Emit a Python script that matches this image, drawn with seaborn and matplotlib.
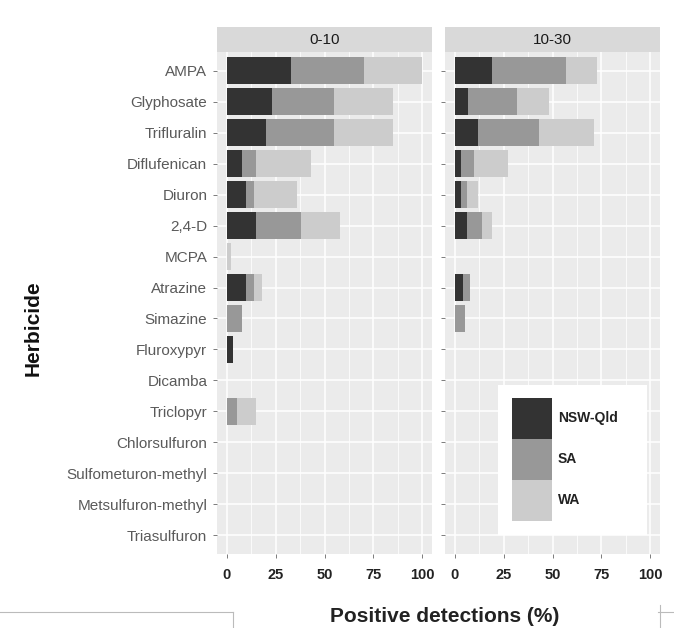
import numpy as np
import pandas as pd
import matplotlib
matplotlib.use("Agg")
import matplotlib.pyplot as plt
from matplotlib.patches import Patch, Rectangle
from matplotlib.lines import Line2D
import seaborn as sns

herbicides = ["AMPA", "Glyphosate", "Trifluralin", "Diflufenican", "Diuron", "2,4-D",
              "MCPA", "Atrazine", "Simazine", "Fluroxypyr", "Dicamba", "Triclopyr",
              "Chlorsulfuron", "Sulfometuron-methyl", "Metsulfuron-methyl", "Triasulfuron"]
depths = ["0-10", "10-30"]
regions = ["NSW-Qld", "SA", "WA"]

# 0-10 cm
nsw_0_10 = [33, 23, 20, 8, 10, 15, 0, 10, 0, 3, 0, 0, 0, 0, 0, 0]
sa_0_10  = [37, 32, 35, 7, 4, 23, 0, 4, 8, 0, 0, 5, 0, 0, 0, 0]
wa_0_10  = [30, 30, 30, 28, 22, 20, 2, 4, 0, 0, 0, 10, 0, 0, 0, 0]
# 10-30 cm
nsw_10_30 = [19, 7, 12, 3, 3, 6, 0, 4, 0, 0, 0, 0, 0, 0, 0, 0]
sa_10_30  = [38, 25, 31, 7, 3, 8, 0, 4, 5, 0, 0, 0, 0, 0, 0, 0]
wa_10_30  = [16, 16, 28, 17, 6, 5, 0, 0, 0, 0, 0, 0, 0, 0, 0, 0]

xticks = [0, 25, 50, 75, 100]

data = {
    "0-10": {"NSW-Qld": nsw_0_10, "SA": sa_0_10, "WA": wa_0_10},
    "10-30": {"NSW-Qld": nsw_10_30, "SA": sa_10_30, "WA": wa_10_30},
}
colors = {"NSW-Qld": "#333333", "SA": "#989898", "WA": "#cccccc"}

rows = []
for d in depths:
    for r in regions:
        for h, v in zip(herbicides, data[d][r]):
            rows.append({"Depth": d, "Region": r, "Herbicide": h, "Value": v})
df = pd.DataFrame(rows)

plt.rcParams["font.family"] = ["Liberation Sans", "DejaVu Sans"]

W, H = 674, 628
fig = plt.figure(figsize=(W / 100, H / 100), dpi=100)


def box(x0, y0, x1, y1):
    return [x0 / W, 1 - y1 / H, (x1 - x0) / W, (y1 - y0) / H]


panels = {"0-10": (217, 432), "10-30": (445, 660)}
ptop, pbot = 52, 554
strip_top = 27

for i, d in enumerate(depths):
    x0, x1 = panels[d]
    ax = fig.add_axes(box(x0, ptop, x1, pbot))
    sub = df[df.Depth == d].pivot(index="Herbicide", columns="Region", values="Value").reindex(herbicides)
    cum = sub[regions].cumsum(axis=1)
    # draw from largest cumulative to smallest (stacked look)
    for r in reversed(regions):
        sns.barplot(x=cum[r].values, y=herbicides, order=herbicides, orient="h",
                    color=colors[r], saturation=1, width=0.86, ax=ax, linewidth=0)
    ax.set_facecolor("#ebebeb")
    ax.set_xlim(-5, 105)
    ax.set_ylim(len(herbicides) - 0.4, -0.6)
    ax.set_xticks(xticks)
    ax.set_xticks([12.5, 37.5, 62.5, 87.5], minor=True)
    ax.grid(True, which="major", axis="both", color="white", linewidth=1.1, zorder=0)
    ax.grid(True, which="minor", axis="x", color="white", linewidth=0.55, zorder=0)
    ax.set_axisbelow(True)
    for s in ax.spines.values():
        s.set_visible(False)
    ax.set_xlabel("")
    ax.set_ylabel("")
    ax.tick_params(axis="both", which="major", length=3, width=0.6, color="#666666")
    ax.tick_params(axis="x", which="minor", length=0)
    ax.set_xticklabels([str(t) for t in xticks], fontsize=10.5, fontweight="bold", color="#222222")
    ax.tick_params(axis="x", pad=7)
    ax.set_yticks(range(len(herbicides)))
    if i == 0:
        ax.set_yticklabels(herbicides, fontsize=11, color="#5a5a5a")
        ax.tick_params(axis="y", pad=4)
    else:
        ax.set_yticklabels([])
    # strip
    sax = fig.add_axes(box(x0, strip_top, x1, ptop))
    sax.set_facecolor("#d9d9d9")
    sax.set_xticks([])
    sax.set_yticks([])
    for s in sax.spines.values():
        s.set_visible(False)
    sax.text(0.5, 0.5, d, ha="center", va="center", fontsize=11, color="#1a1a1a",
             transform=sax.transAxes)

# legend
lx0, ly0, lx1, ly1 = 498, 385, 647, 535
fig.patches.append(Rectangle((lx0 / W, 1 - ly1 / H), (lx1 - lx0) / W, (ly1 - ly0) / H,
                             transform=fig.transFigure, facecolor="white", edgecolor="none",
                             zorder=5))
handles = [Patch(facecolor=colors[r], edgecolor="none", label=r) for r in regions]
fs = 10
fs_px = fs * 100 / 72
key_h = 41 / fs_px
hh = (key_h - 0.245) / 0.65
leg = fig.legend(handles=handles, loc="upper left",
                 bbox_to_anchor=(512 / W, 1 - 398 / H), bbox_transform=fig.transFigure,
                 frameon=False, handlelength=40 / fs_px, handleheight=hh,
                 labelspacing=0.0, borderpad=0, borderaxespad=0, handletextpad=6 / fs_px,
                 prop={"weight": "bold", "size": fs})
leg.set_zorder(6)
for t in leg.get_texts():
    t.set_color("#222222")

# axis titles
fig.text(445 / W, 1 - 617 / H, "Positive detections (%)", ha="center", va="center",
         fontsize=15, fontweight="bold", color="#222222")
fig.text(33 / W, 1 - 328 / H, "Herbicide", ha="center", va="center", rotation=90,
         fontsize=15, fontweight="bold", color="#111111")

# page artifacts at bottom
fig.lines.append(Line2D([0, 233 / W], [1 - 612 / H, 1 - 612 / H], transform=fig.transFigure,
                        color="#bbbbbb", linewidth=0.8))
fig.lines.append(Line2D([233 / W, 233 / W], [1 - 612 / H, 0], transform=fig.transFigure,
                        color="#bbbbbb", linewidth=0.8))
fig.lines.append(Line2D([658 / W, 1], [1 - 612 / H, 1 - 612 / H], transform=fig.transFigure,
                        color="#bbbbbb", linewidth=0.8))
fig.lines.append(Line2D([660 / W, 660 / W], [1 - 605 / H, 0], transform=fig.transFigure,
                        color="#bbbbbb", linewidth=0.8))

fig.savefig("out.png", dpi=100, facecolor="white")
